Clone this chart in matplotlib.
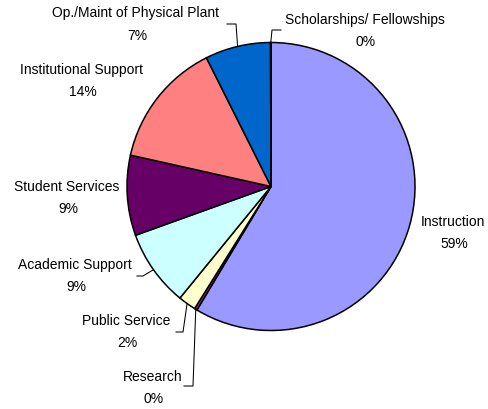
import numpy as np
import matplotlib
matplotlib.use("Agg")
import matplotlib.pyplot as plt

# expense categories, clockwise from 12 o'clock
categories = ["Instruction", "Research", "Public Service", "Academic Support",
              "Student Services", "Institutional Support",
              "Op./Maint of Physical Plant", "Scholarships/ Fellowships"]
shares = [58.6, 0.3, 2.0, 8.6, 9.0, 14.1, 7.35, 0.05]
colors = ["#9999FF", "#993366", "#FFFFCC", "#CCFFFF",
          "#660066", "#FF8080", "#0066CC", "#CCCCFF"]

W, H = 489, 410
cx, cy, R = 271, 187.5, 144

# label centre (image px) and optional leader elbow / end (image px)
label_pos = [(453, 222), (153, 377), (126, 321), (75, 265),
             (67, 187), (82, 70), (136, 13.5), (364.5, 20)]
leaders = [None, ((193, 387), (184, 387)), ((183, 333), (176, 333)),
           ((143, 277), (137, 277)), None, None,
           ((236, 25), (227, 25)), ((272, 31), (281, 31))]


def fy(y):
    return H - y


fig = plt.figure(figsize=(W / 100, H / 100), dpi=100)
ax = fig.add_axes([0, 0, 1, 1])

wedges, _ = ax.pie(shares, colors=colors, startangle=90, counterclock=False,
                   radius=R, center=(cx, fy(cy)), frame=True,
                   wedgeprops=dict(edgecolor="black", linewidth=1.1))
ax.set_xlim(0, W)
ax.set_ylim(0, H)
ax.set_aspect("equal")
ax.axis("off")

font = dict(family=["Liberation Sans", "DejaVu Sans"], size=10, color="black")
for i, w in enumerate(wedges):
    x, y = label_pos[i]
    ax.text(x, fy(y), categories[i], ha="center", va="center", **font)
    ax.text(x + 1, fy(y + 22), "%d%%" % round(shares[i]), ha="center", va="center", **font)
    if leaders[i] is not None:
        mid = np.radians((w.theta1 + w.theta2) / 2)
        px = cx + R * np.cos(mid)
        py = fy(cy) + R * np.sin(mid)
        (ex, ey), (tx, ty) = leaders[i]
        ax.plot([px, ex, tx], [py, fy(ey), fy(ty)], color="black", lw=0.75)

fig.savefig("out.png", dpi=100)
